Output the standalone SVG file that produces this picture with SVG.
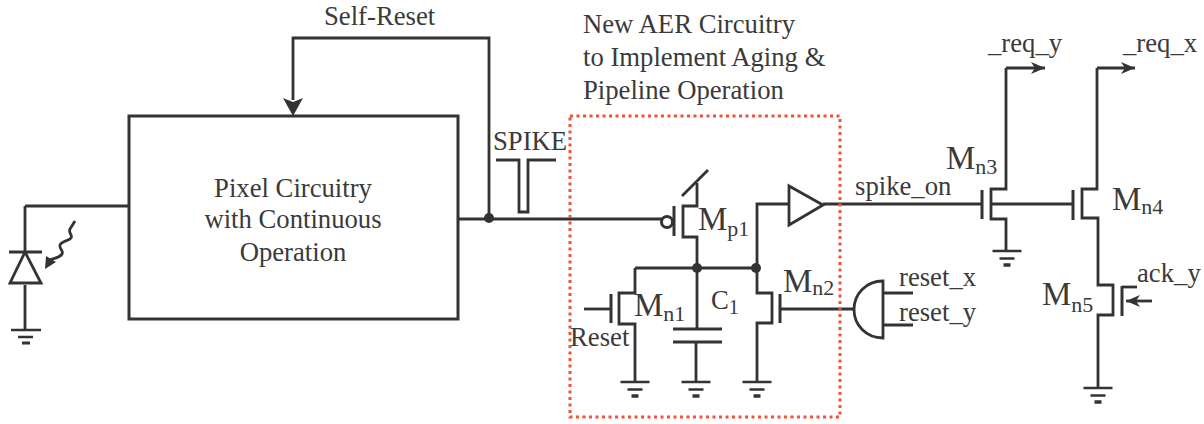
<svg xmlns="http://www.w3.org/2000/svg" width="1204" height="424" viewBox="0 0 1204 424">
<style>
.w{fill:none;stroke:#333;stroke-width:2.800;stroke-linejoin:miter}
.g{fill:none;stroke:#333;stroke-width:3}
.t{font-family:"Liberation Serif",serif;fill:#3a3a3a;font-size:26.700px}
.m{font-size:33px}
.sub{font-size:22px}
.d{fill:#333}
</style>
<defs>
<g id="gnd"><path fill="none" stroke="#333" stroke-width="2.600" d="M-14.500 0H14.500M-7.500 7.500H7.500"/><path fill="none" stroke="#333" stroke-width="3.500" d="M-3.500 14H3.500"/></g>
<marker id="ah" markerUnits="userSpaceOnUse" markerWidth="18" markerHeight="14" refX="14" refY="6" orient="auto"><path d="M0 0L14 6L0 12L4 6Z" fill="#333"/></marker>
</defs>
<rect width="1204" height="424" fill="#fff"/>
<g id="connectors">
<path class="w" d="M25 206H129"/>
<path class="w" d="M25 206V251M25 285V330"/>
<path class="w" d="M458 219H662"/>
<path class="w" d="M489 219V38H293V100"/>
<path class="w" d="M496 160H519V212H528V160H556"/>
<path class="w" d="M697 183V206H683V237H697V268"/>
<path class="w" d="M682 196L708 170"/>
<path class="w" d="M635 268H757"/>
<path class="w" d="M635 268V293H619V324H635V382"/>
<path class="w" d="M584 309H610"/>
<path class="w" d="M697 268V329M696 342V382"/>
<path class="w" d="M789 204H757V293H772V323H757V382"/>
<path class="w" d="M823 204H982"/>
<path class="w" d="M781 309H854"/>
<path class="w" d="M883 293H913M883 325H913"/>
<path class="w" d="M990 204H1072"/>
<path class="w" d="M1006 68V189H991V219H1006V251"/>
<path class="w" d="M1006 68H1045" marker-end="url(#ah)"/>
<path class="w" d="M1097 68V189H1082V218H1098V285H1113V315H1098V388"/>
<path class="w" d="M1097 68H1135" marker-end="url(#ah)"/>
<path class="w" d="M1152 301H1126" marker-end="url(#ah)"/>
<path class="w" d="M1122 287H1137"/>
<path class="w" d="M75 221L70 229C68 233 73 235 71 238C69 241 61 241 60 245C59 249 64 251 62 254C60 258 53 258 50 260L47 265"/>
<path d="M45 269L46 256L56 262Z" fill="#333"/>
</g>
<g id="pixel"><rect x="129" y="116" width="329" height="203" fill="none" stroke="#333" stroke-width="3"/>
<text class="t" x="293" y="197" text-anchor="middle">Pixel Circuitry</text>
<text class="t" x="293" y="228" text-anchor="middle">with Continuous</text>
<text class="t" x="293" y="261" text-anchor="middle">Operation</text></g>
<g id="self-reset"><path d="M293 116L283 98L293 102L303 98Z" fill="#333"/><text class="t" x="324" y="25">Self-Reset</text></g>
<g id="aer-box"><rect x="570" y="116" width="270" height="301" fill="none" stroke="#f0533a" stroke-width="3" stroke-dasharray="3 3.500"/>
<text class="t" x="583" y="33">New AER Circuitry</text>
<text class="t" x="583" y="66">to Implement Aging &amp;</text>
<text class="t" x="583" y="99">Pipeline Operation</text></g>
<g id="spike"><text class="t" x="493" y="150">SPIKE</text></g>
<g id="photodiode"><path class="w" d="M9 252H42M25 252L10 283H41L25 252Z"/><path fill="none" stroke="#333" stroke-width="2.600" d="M11 330H41M18 337H33"/><path fill="none" stroke="#333" stroke-width="3" d="M22 343H30"/></g>
<g id="mp1"><circle cx="667" cy="222" r="5.500" fill="#fff" stroke="#333" stroke-width="3"/><path class="g" d="M674 206V236"/>
<text class="t m" x="698" y="230">M<tspan class="sub" dy="6">p1</tspan></text></g>
<g id="buffer"><path d="M789 186V225L823 205Z" fill="none" stroke="#333" stroke-width="2.800"/></g>
<g id="mn1"><path class="g" d="M611 294V323"/><text class="t m" x="634" y="316">M<tspan class="sub" dy="5">n1</tspan></text><text class="t" x="570" y="346">Reset</text><use href="#gnd" x="635" y="382"/></g>
<g id="c1"><path class="g" d="M673 329H722M673 342H722"/><text class="t" font-size="26" x="711" y="309">C<tspan font-size="20" dy="5">1</tspan></text><use href="#gnd" x="696" y="382"/></g>
<g id="mn2"><path class="g" d="M780 294V323"/><text class="t m" x="783" y="292">M<tspan class="sub" dy="3">n2</tspan></text><use href="#gnd" x="757" y="382"/></g>
<g id="and-gate"><path class="w" d="M883 281V338C866 338 854 325 854 309.500C854 294 866 281 883 281Z"/><text class="t" x="899" y="286">reset_x</text><text class="t" x="899" y="321">reset_y</text></g>
<g id="spike-on"><text class="t" x="855" y="195">spike_on</text></g>
<g id="mn3"><path class="g" d="M982 190V219"/><text class="t m" x="946" y="169">M<tspan class="sub" dy="5">n3</tspan></text><use href="#gnd" x="1007" y="251"/><text class="t" x="988" y="52">_req_y</text></g>
<g id="mn4"><path class="g" d="M1073 190V220"/><text class="t m" x="1112" y="210">M<tspan class="sub" dy="4">n4</tspan></text><text class="t" x="1123" y="52">_req_x</text></g>
<g id="mn5"><path class="g" d="M1122 286V316"/><text class="t m" x="1042" y="305">M<tspan class="sub" dy="7">n5</tspan></text><text class="t" x="1137" y="282">ack_y</text><use href="#gnd" x="1098" y="388"/></g>
<g id="junctions"><circle class="d" cx="489" cy="218" r="5"/><circle class="d" cx="697" cy="268" r="5"/><circle class="d" cx="756" cy="268" r="5"/></g>
</svg>
